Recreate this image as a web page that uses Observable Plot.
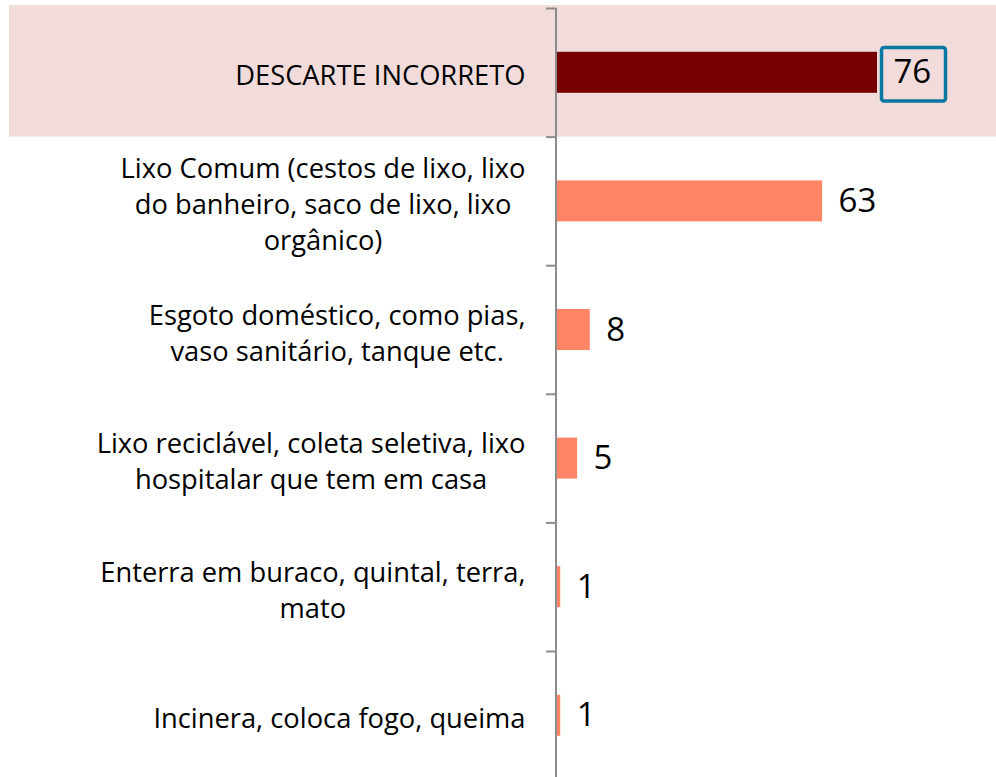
<!DOCTYPE html>
<html>
<head>
<meta charset="utf-8">
<script src="https://cdn.jsdelivr.net/npm/d3@7"></script>
<script src="https://cdn.jsdelivr.net/npm/@observablehq/plot@0.6"></script>
<style>
  html, body { margin: 0; padding: 0; background: #fff; }
  #chart svg { display: block; }
</style>
</head>
<body>
<div id="chart"></div>
<script>
const categories = [
  "DESCARTE INCORRETO",
  "Lixo Comum (cestos de lixo, lixo\ndo banheiro, saco de lixo, lixo\norgânico)",
  "Esgoto doméstico, como pias,\nvaso sanitário, tanque etc.",
  "Lixo reciclável, coleta seletiva, lixo\nhospitalar que tem em casa",
  "Enterra em buraco, quintal, terra,\nmato",
  "Incinera, coloca fogo, queima"
];
const values = [76, 63, 8, 5, 1, 1];
const highlighted = [true, false, false, false, false, false];

const rows = categories.map((label, i) => ({label, value: values[i], i, hi: highlighted[i]}));

const FONT = "Open Sans";
const LABEL_SIZE = 27.3;
const ctx = document.createElement("canvas").getContext("2d");
ctx.font = `${LABEL_SIZE}px "${FONT}"`;
const blockWidth = (s) => Math.max(...s.split("\n").map(l => ctx.measureText(l).width));

const axisColor = "#8c8c8c";

const chart = Plot.plot({
  width: 996,
  height: 777,
  marginLeft: 556,
  marginRight: 119,
  marginTop: 8,
  marginBottom: 0,
  x: {domain: [0, 76], axis: null},
  y: {domain: [0, categories.length], range: [8, 8 + 128.6 * categories.length], label: null},
  style: {fontFamily: `"${FONT}"`, background: "white", color: "black"},
  marks: [
    Plot.rect(rows.filter(d => d.hi), {
      y1: "i", y2: d => d.i + 1,
      fill: "#f2dcdb", insetLeft: -547, insetRight: -119, insetTop: -3
    }),
    Plot.rectX(rows, {
      x: "value", y1: "i", y2: d => d.i + 1,
      insetTop: 43.8, insetBottom: 43.8,
      fill: d => d.hi ? "#760000" : "#ff8566"
    }),
    Plot.axisY({
      ticks: d3.range(0, categories.length + 1),
      tickSize: 10, tickFormat: () => "", label: null,
      stroke: axisColor, strokeWidth: 2
    }),
    Plot.ruleX([0], {y1: 0, y2: categories.length, stroke: axisColor, strokeWidth: 2, dx: -0.5}),
    Plot.text(rows, {
      x: "value", y: d => d.i + 0.5, text: d => String(d.value),
      dx: 16, textAnchor: "start", fontSize: 33, fill: "black"
    }),
    Plot.rect(rows.filter(d => d.hi), {
      x1: "value", x2: "value", y1: "i", y2: d => d.i + 1,
      insetLeft: 4.5, insetRight: -68.5, insetTop: 39.5, insetBottom: 35.5,
      fill: "none", stroke: "#0a76a2", strokeWidth: 3.5, rx: 2.5
    }),
    ...rows.map(d => Plot.text([d], {
      x: 0, y: r => r.i + 0.5, text: "label",
      textAnchor: "middle", dx: -31 - blockWidth(d.label) / 2, dy: 1,
      fontSize: LABEL_SIZE, lineHeight: 1.32, fill: "black"
    }))
  ]
});
document.getElementById("chart").appendChild(chart);
</script>
</body>
</html>
